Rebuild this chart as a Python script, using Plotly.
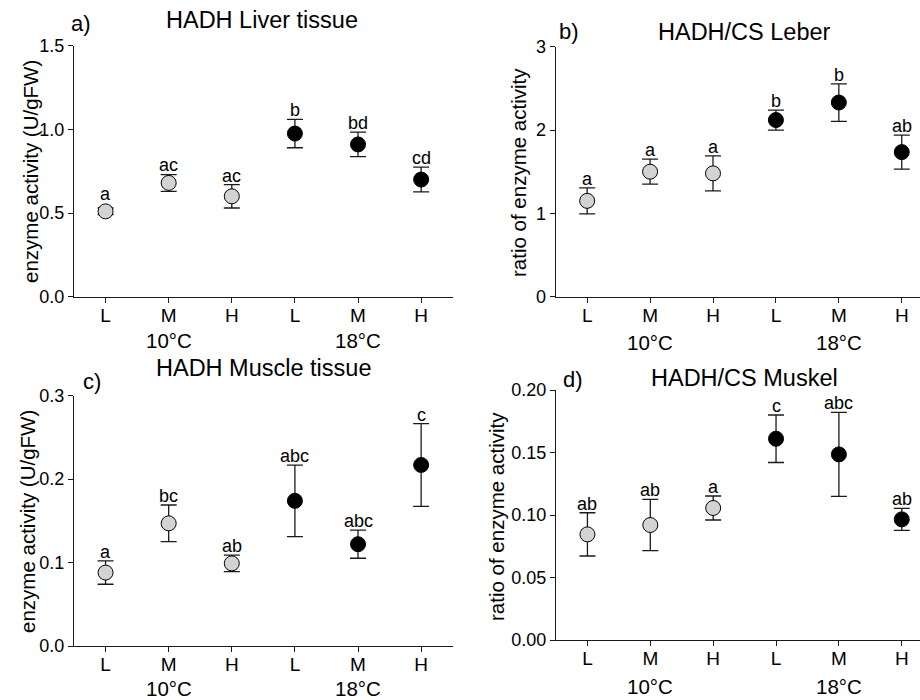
import plotly.graph_objects as go

# ---------------- data ----------------
conditions = ["L", "M", "H", "L", "M", "H"]
temperatures = ["10°C", "18°C"]

a_mean = [0.51, 0.68, 0.60, 0.975, 0.91, 0.70]
a_err = [0.02, 0.05, 0.07, 0.085, 0.073, 0.074]
a_letters = ["a", "ac", "ac", "b", "bd", "cd"]

b_mean = [1.15, 1.50, 1.48, 2.12, 2.33, 1.735]
b_err = [0.155, 0.15, 0.21, 0.12, 0.225, 0.205]
b_letters = ["a", "a", "a", "b", "b", "ab"]

c_mean = [0.088, 0.147, 0.099, 0.174, 0.122, 0.217]
c_err = [0.014, 0.022, 0.0098, 0.0428, 0.0168, 0.0496]
c_letters = ["a", "bc", "ab", "abc", "abc", "c"]

d_mean = [0.0845, 0.092, 0.1056, 0.161, 0.1485, 0.0965]
d_err = [0.0173, 0.0205, 0.0096, 0.019, 0.0336, 0.0088]
d_letters = ["ab", "ab", "a", "c", "abc", "ab"]

titles = ["HADH Liver tissue", "HADH/CS Leber", "HADH Muscle tissue", "HADH/CS Muskel"]
panel_tags = ["a)", "b)", "c)", "d)"]
ytitles = ["enzyme activity (U/gFW)", "ratio of enzyme activity",
           "enzyme activity (U/gFW)", "ratio of enzyme activity"]

# ---------------- styling ----------------
W, H = 920, 700
FONT = "Liberation Sans, Arial, Helvetica, sans-serif"
GRAY = "#d3d3d3"
INK = "#1a1a1a"
MSIZE = 15

panels = [
    dict(mean=a_mean, err=a_err, letters=a_letters, xdom=[74, 452.7], ydom=[45.7, 296.7],
         yrange=[0, 1.5], dtick=0.5, fmt=".1f", xr=[-0.5, 5.5],
         title_xy=(262, 20), tag_xy=(81, 24), ytitle_xy=(30, 172), temp_y=340),
    dict(mean=b_mean, err=b_err, letters=b_letters, xdom=[555.7, 920], ydom=[46.7, 296.7],
         yrange=[0, 3], dtick=1, fmt="d", xr=[-0.5, 5.29],
         title_xy=(744, 32), tag_xy=(569, 32), ytitle_xy=(519, 173), temp_y=342),
    dict(mean=c_mean, err=c_err, letters=c_letters, xdom=[74, 452.7], ydom=[395.7, 646],
         yrange=[0, 0.3], dtick=0.1, fmt=".1f", xr=[-0.5, 5.5],
         title_xy=(263, 368), tag_xy=(92, 381), ytitle_xy=(27, 522), temp_y=688),
    dict(mean=d_mean, err=d_err, letters=d_letters, xdom=[556, 920], ydom=[390, 640],
         yrange=[0, 0.2], dtick=0.05, fmt=".2f", xr=[-0.5, 5.29],
         title_xy=(744, 378), tag_xy=(573, 380), ytitle_xy=(496, 517), temp_y=686),
]

colors = [GRAY, GRAY, GRAY, "black", "black", "black"]
xs = list(range(len(conditions)))

fig = go.Figure()
annotations = []
layout_axes = {}

for i, p in enumerate(panels):
    n = "" if i == 0 else str(i + 1)
    xa, ya = "x" + n, "y" + n
    fig.add_trace(go.Scatter(
        x=xs, y=p["mean"], xaxis=xa, yaxis=ya, mode="markers",
        marker=dict(size=MSIZE, color=colors, line=dict(color="black", width=1)),
        error_y=dict(type="data", array=p["err"], visible=True, color=INK,
                     thickness=1.3, width=8),
        showlegend=False, hoverinfo="skip", cliponaxis=False,
    ))
    xdom = [p["xdom"][0] / W, p["xdom"][1] / W]
    ydom = [1 - p["ydom"][1] / H, 1 - p["ydom"][0] / H]
    layout_axes["xaxis" + n] = dict(
        domain=xdom, range=p["xr"], anchor=ya, tickvals=xs, ticktext=conditions,
        showline=True, linecolor=INK, linewidth=1.3, ticks="outside", ticklen=5,
        tickwidth=1.3, tickcolor=INK, showgrid=False, zeroline=False,
        automargin=False, ticklabelstandoff=-4,
        tickfont=dict(family=FONT, size=19, color="black"), fixedrange=True,
    )
    layout_axes["yaxis" + n] = dict(
        domain=ydom, range=p["yrange"], anchor=xa, dtick=p["dtick"], tick0=0,
        tickformat=p["fmt"], showline=True, linecolor=INK, linewidth=1.3,
        ticks="outside", ticklen=5, tickwidth=1.3, tickcolor=INK,
        showgrid=False, zeroline=False, automargin=False,
        tickfont=dict(family=FONT, size=18, color="black"), fixedrange=True,
    )
    # pixel scale to keep letters above marker when error bar is hidden by it
    px_per_unit = (p["ydom"][1] - p["ydom"][0]) / (p["yrange"][1] - p["yrange"][0])
    radius_units = (MSIZE / 2 + 1) / px_per_unit
    for xi, m, e, lab in zip(xs, p["mean"], p["err"], p["letters"]):
        top = m + max(e, radius_units)
        annotations.append(dict(
            x=xi, y=top, xref=xa, yref=ya, text=lab, showarrow=False,
            yanchor="bottom", xanchor="center", yshift=-3,
            font=dict(family=FONT, size=18, color="black"),
        ))
    # temperature group labels
    for ti, tx in zip(temperatures, [1, 4]):
        annotations.append(dict(
            x=tx, y=1 - p["temp_y"] / H, xref=xa, yref="paper", text=ti,
            showarrow=False, yanchor="middle", xanchor="center",
            font=dict(family=FONT, size=20.5, color="black"),
        ))
    # panel title and tag
    tx_, ty_ = p["title_xy"]
    annotations.append(dict(
        x=tx_ / W, y=1 - ty_ / H, xref="paper", yref="paper", text=titles[i],
        showarrow=False, xanchor="center", yanchor="middle",
        font=dict(family=FONT, size=23.5, color="black"),
    ))
    gx, gy = p["tag_xy"]
    annotations.append(dict(
        x=gx / W, y=1 - gy / H, xref="paper", yref="paper", text=panel_tags[i],
        showarrow=False, xanchor="center", yanchor="middle",
        font=dict(family=FONT, size=22, color="black"),
    ))
    # y-axis title
    yx, yy = p["ytitle_xy"]
    annotations.append(dict(
        x=yx / W, y=1 - yy / H, xref="paper", yref="paper", text=ytitles[i],
        showarrow=False, xanchor="center", yanchor="middle", textangle=-90,
        font=dict(family=FONT, size=20.5, color="black"),
    ))

fig.update_layout(
    width=W, height=H, margin=dict(l=0, r=0, t=0, b=0, pad=0, autoexpand=False),
    paper_bgcolor="white", plot_bgcolor="white", showlegend=False,
    annotations=annotations, **layout_axes,
)

fig.write_html("out.html", config={"displayModeBar": False},
               post_script="document.body.style.margin='0px';document.body.style.overflow='hidden';")
